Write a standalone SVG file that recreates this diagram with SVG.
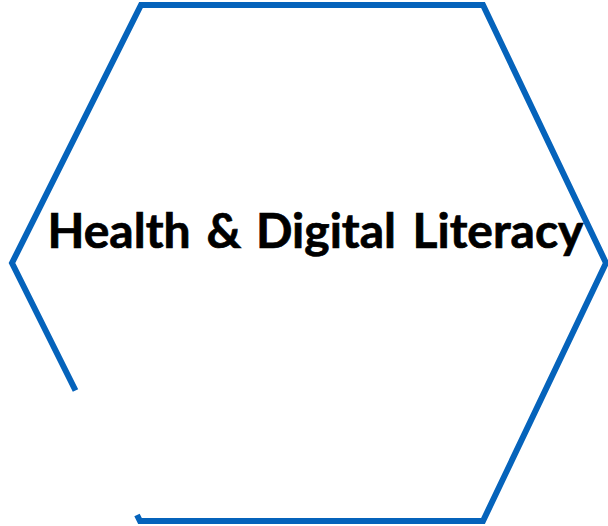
<svg xmlns="http://www.w3.org/2000/svg" width="608" height="526" viewBox="0 0 608 526">
<style>
.outline{fill:none;stroke:#0563BB;stroke-width:6;stroke-linejoin:miter;stroke-linecap:butt}
.label{font-family:Lato,"Open Sans","Liberation Sans",sans-serif;font-weight:700;font-size:48px;fill:#000;stroke:#000;stroke-width:.7}
</style>
<rect width="608" height="526" fill="#fff"/>
<g id="hexagon">
<path class="outline" d="M75.5 390.5L12 263L141 5H483L606 263L483 521H140L137 515"/>
<text class="label" y="248"><tspan x="47.5">Health</tspan> <tspan x="206.5">&amp;</tspan> <tspan x="256">Digital</tspan> <tspan x="412.5">Literacy</tspan></text>
</g>
</svg>
